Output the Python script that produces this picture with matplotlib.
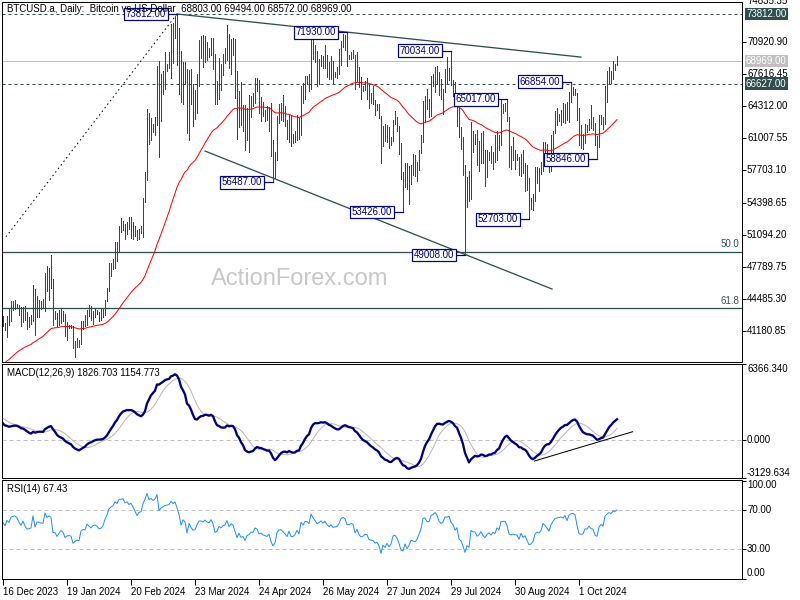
import numpy as np
import pandas as pd
import matplotlib
matplotlib.use("Agg")
import matplotlib.pyplot as plt
from matplotlib.transforms import blended_transform_factory as btf

plt.rcParams['font.family'] = ['Liberation Sans', 'DejaVu Sans']

# ---------------- data (daily bars 16 Dec 2023 .. 20 Oct 2024, broker closed 25 Dec / 1 Jan)
warmup_closes = [25160,25840,26230,26530,26610,26570,26530,26760,27210,27130,26570,26580,26580,26250,26300,26220,26370,27030,26910,26970,
 27990,27510,27430,27800,27420,27950,27970,27940,27590,27390,26880,26760,26860,26860,27160,28520,28420,28330,28720,29680,29920,29990,33090,33900,34500,34160,33910,34090,34540,34480,34670,
 35440,34940,34730,35080,35050,35040,35420,35650,36700,37320,37140,37070,36500,35540,37880,36170,36600,36590,37390,37470,35810,37420,37290,37720,37800,37480,37250,37830,37860,37710,
 38690,39480,39980,41980,44080,43770,43290,44170,43720,43790,41240,41450,42890,43020,41940]

highs_dec = [42700,42000,42700,43450,44250,44300,44350,44000,43900,43600,43700,43800,43100,42600,42850]
lows_dec  = [41700,41250,40550,41850,42200,43300,43400,43600,42800,41650,42100,42350,41350,41600,41950]
close_dec = [41930,41340,42620,42270,43650,43860,43990,43730,43010,42520,43440,42580,42070,42140,42280]

highs_jan = [45900,45500,44800,44350,44250,44500,47200,47900,47700,49000,46500,43250,43000,43350,43550,43200,42950,
             42150,41850,41850,41650,40150,40500,40300,42200,42250,42800,43300,43850,43750]
lows_jan  = [42200,40800,42650,42600,43450,43600,43200,45250,44350,45600,41800,42450,41700,41750,42050,42200,40700,
             40300,41450,41450,39450,38550,39500,39550,39850,41400,41650,41800,42700,42300]
close_jan = [44960,42850,44180,44160,43970,43930,46970,46120,46660,46350,42850,42840,41730,42510,43150,42740,41260,
             41620,41660,41580,39510,39850,40080,39930,41820,42120,42030,43300,42940,42580]

highs_feb = [43250,43500,43350,43100,43500,43400,44400,45600,48200,48150,48550,50300,50350,52000,52800,52550,52200,52350,52900,52950,
             52350,52000,51550,51700,51950,54900,57550,64000,63650]
lows_feb  = [41900,42600,42900,42250,42300,42600,42800,44300,45250,46850,47550,47700,48350,49300,51350,51600,50650,51200,51700,50800,
             50650,50950,50550,50600,51300,50900,54450,56700,60450]
close_feb = [43080,43180,43010,42580,42660,43080,44320,45300,47150,47770,48290,49960,49740,51830,51940,52160,51660,52120,51780,52280,
             51840,51300,50740,51570,51730,54520,57090,62500,61200]

highs_mar = [63100,62450,63200,68500,69000,67600,67900,69950,68700,69950,72800,72900,73650,73812,72400,70000,68900,68900,68100,68050,
             68200,66600,65950,67600,71100,71550,71700,71500,70900,70300,71350]
lows_mar  = [60800,61650,61350,62400,59100,62800,65600,66050,67950,68250,67200,68750,71350,68600,65600,64800,64550,66600,61550,60800,
             64550,62300,63050,63600,66400,69300,68400,68900,69100,69400,69550]
close_mar = [62440,62030,63170,68330,63800,66110,66930,68300,68500,69020,72120,71480,73080,71400,69400,65320,68390,67550,61910,67910,
             65490,63780,64060,67230,69960,69990,69450,70740,69890,69640,71330]

highs_apr = [71350,69700,66900,69250,68700,69650,70300,72700,71750,71200,71300,71250,67900,65850,66850,64400,64450,64100,65450,65400,
             65650,67200,67200,67050,65250,64800,63900,64350,64200,64700]
lows_apr  = [68100,64500,64500,65050,66000,67500,68800,69100,68300,67600,69600,65200,60900,62200,62350,61750,59800,60850,59650,63200,
             64300,64600,65850,63650,62800,63350,62800,62850,61800,59150]
close_apr = [69700,65450,65980,68510,67840,68900,69360,71630,69140,70590,70060,67200,63820,65740,63420,63810,61280,63510,63840,64990,
             64930,66840,66410,64280,64500,63770,63460,63120,63840,60640]

highs_may = [60800,59600,63300,64500,64600,65450,64350,62950,63450,63450,61450,61800,63400,63100,66450,66700,67400,67450,67650,71500,
             71850,70600,70050,69200,69550,69500,70600,69550,68900,69500,69000]
lows_may  = [56487,56950,58800,62600,62900,62800,62300,60900,60650,60200,60500,60650,60800,60950,61350,64650,65100,66650,65850,66100,
             69200,68900,66350,66650,68500,68250,68250,67300,67150,67150,66700]
close_may = [58250,59120,62890,63890,64030,63160,62330,61190,63050,60790,60790,61450,62900,61550,66270,65230,67050,66940,66280,71450,
             70140,69120,67930,68530,69290,68510,69390,68290,67580,68350,67490]

highs_jun = [67850,68400,70250,71050,71750,71600,71930,69550,69850,70150,69550,69950,68400,67300,66400,66950,67250,66500,65700,66450,
             65000,64500,64500,63350,62300,62450,62350,62200,61200,62950]
lows_jun  = [67300,67250,67600,68550,70400,70150,68500,69200,69150,69250,66100,66900,66300,65100,65850,66000,65100,64100,64700,64500,
             63400,63950,63100,58500,60250,60750,60600,60050,60300,60750]
close_jun = [67710,67750,68800,70570,71080,70760,69340,69300,69650,69510,67320,68240,66760,66010,66190,66640,66490,65140,64960,64830,
             64100,64250,63180,60280,61800,60860,61670,60320,60890,62680]

highs_jul = [63800,63250,62300,60500,57500,58450,58450,58200,58300,59450,59300,58550,59850,61350,64900,65350,66100,65100,67400,67600,
             68400,68500,67800,67100,66100,68200,69400,68300,70034,67000,66800]
lows_jul  = [62450,61800,59450,56800,53426,56050,55750,54300,56350,57200,57100,56600,57800,59550,60650,62700,64000,63250,63350,66450,
             65800,66600,65450,65100,63500,65750,66700,67050,66500,65350,64550]
close_jul = [62850,62030,60200,57060,56660,58240,55850,56710,58050,57720,57340,57900,59230,60790,64870,65100,64120,63970,66710,67160,
             68190,67560,65980,65390,65800,67910,67810,68250,66760,66190,64620]

highs_aug = [65600,65600,62150,61100,58300,57050,57700,62700,61750,61450,61850,60700,61550,61750,59800,59800,59650,60250,59600,61400,
             61800,61400,64950,64500,64700,65017,63200,60200,61150,59850,59450]
lows_aug  = [62300,61200,59900,57200,49008,53950,54600,54750,59600,60400,58300,57650,58500,58450,56150,57050,58800,58450,57850,58600,
             58800,59850,60350,63600,63800,62800,58100,57850,58800,57850,58750]
close_aug = [65360,61410,60680,58120,53990,56030,55030,61710,60880,60940,58710,59350,60610,58740,57560,58870,59480,58480,59490,59010,
             61180,60380,64090,64180,64180,62880,59500,59030,59390,59120,58970]

highs_sep = [59050,59400,59800,58500,58300,56950,54850,55300,58100,58050,57950,58600,60650,60650,60400,59200,61350,61800,63850,64150,
             63550,63950,64700,64550,64800,65800,66854,66250,66050,65650]
lows_sep  = [57250,57150,57450,55600,55700,52703,53750,53650,54600,56400,55550,57350,57650,59450,58700,57500,57650,59200,61600,62400,
             62750,62400,62700,62600,62950,62700,64800,65450,65450,62900]
close_sep = [57330,59130,57490,57970,56160,53950,54150,54840,57020,57650,57340,58130,60570,60010,59180,58210,60310,61760,62950,63200,
             63350,63580,63340,64260,63140,65180,65790,65890,65640,63330]

highs_oct = [64150,62400,61500,62450,62350,63000,64450,63200,62550,61300,63400,63450,63250,66450,67900,68400,67900,68950,68700,69494]
lows_oct  = [60300,60000,59900,60500,61650,61850,62100,61850,60300,58846,60100,62450,62000,62450,64800,66750,66700,67150,68000,68572]
close_oct = [60840,60630,60750,62090,62070,62820,62220,62130,60580,60270,62450,63190,62850,66050,67040,67610,67400,68420,68360,68969]

tick_labels = ["16 Dec 2023", "19 Jan 2024", "20 Feb 2024", "23 Mar 2024", "24 Apr 2024", "26 May 2024",
               "27 Jun 2024", "29 Jul 2024", "30 Aug 2024", "1 Oct 2024"]
tick_pos = [0, 32, 64, 96, 128, 160, 192, 224, 256, 288]

swing_high_idx = [87, 172, 224, 252, 284]
swing_low_idx = [135, 200, 231, 263, 297]
level_dashed = [73812, 66627]
fib_low, fib_high = 24900, 73812
fib_levels = [0.5, 0.618]
trend_dotted = [(1.5, 50880), (87, 73812)]
trend_upper = [(87, 73812), (289, 69375)]
trend_lower = [(101, 59703), (274.5, 45503)]
macd_trend = [(265.7, -1716), (314.8, 725)]

header = "BTCUSD.a, Daily:  Bitcoin vs US Dollar  68803.00 69494.00 68572.00 68969.00"
macd_title = "MACD(12,26,9) 1826.703 1154.773"
rsi_title = "RSI(14) 67.43"

# ---------------- assemble
highs = np.array(highs_dec + highs_jan + highs_feb + highs_mar + highs_apr + highs_may + highs_jun + highs_jul + highs_aug + highs_sep + highs_oct, float)
lows = np.array(lows_dec + lows_jan + lows_feb + lows_mar + lows_apr + lows_may + lows_jun + lows_jul + lows_aug + lows_sep + lows_oct, float)
closes = np.array(close_dec + close_jan + close_feb + close_mar + close_apr + close_may + close_jun + close_jul + close_aug + close_sep + close_oct, float)
n = len(closes)
idx = np.arange(n)

allc = pd.Series(list(warmup_closes) + list(closes), dtype=float)
ema55 = allc.ewm(span=55, adjust=False).mean().values[-n:]
macd_all = allc.ewm(span=12, adjust=False).mean() - allc.ewm(span=26, adjust=False).mean()
sig_all = macd_all.rolling(9).mean()
macd = macd_all.values[-n:]
sig = sig_all.values[-n:]
d = allc.diff()
ag = d.clip(lower=0).ewm(alpha=1/14, adjust=False).mean()
al = (-d.clip(upper=0)).ewm(alpha=1/14, adjust=False).mean()
rsi = (100 - 100 / (1 + ag / al)).values[-n:]

# ---------------- figure
W, H = 800, 600
fig = plt.figure(figsize=(8, 6), dpi=100)
fig.patch.set_facecolor('white')

def axpx(x0, y0, x1, y1):
    return fig.add_axes([x0 / W, 1 - y1 / H, (x1 - x0) / W, (y1 - y0) / H])

BAR = '#1f4a66'
SLATE = '#2f4f4f'
NAVY = '#000080'
PX = 0.72  # one pixel in points
FS = 7

ax = axpx(2, 2, 742, 362)
axm = axpx(2, 364, 742, 478)
axr = axpx(2, 480, 742, 579)
XL = (-0.5, 369.5)
for a in (ax, axm, axr):
    a.set_xlim(*XL)
    for s in a.spines.values():
        s.set_linewidth(PX)
        s.set_color('black')
    a.tick_params(axis='x', which='both', bottom=False, labelbottom=False)
    a.yaxis.tick_right()
    a.tick_params(axis='y', direction='out', length=3, width=PX, labelright=False, right=True)

# --- price panel
ax.set_ylim(37990, 75046)
fig.text(300 / W, 1 - 279 / H, "ActionForex.com", fontsize=17, color='#c8c8c8', ha='center', va='center', zorder=0)
ax.patch.set_alpha(0)

ax.vlines(idx, lows, highs, color=BAR, lw=PX, antialiased=False, zorder=3)
ax.plot(idx, ema55, color='red', lw=PX, zorder=4)

for lv in level_dashed:
    ax.axhline(lv, color=SLATE, lw=PX, ls=(0, (3, 3)), zorder=2)
ax.axhline(closes[-1], color='#c0c0c0', lw=PX, zorder=2)
for f in fib_levels:
    v = fib_high - f * (fib_high - fib_low)
    ax.axhline(v, color=SLATE, lw=PX * 1.3, zorder=2)
    ax.annotate(f"{f*100:.1f}", xy=(1, v), xycoords=btf(ax.transAxes, ax.transData),
                xytext=(-2, 1.5), textcoords='offset points', ha='right', va='bottom',
                fontsize=FS, color=SLATE)

def seg(a, pts, **kw):
    xs, ys = zip(*pts)
    a.plot(xs, ys, **kw)

seg(ax, trend_dotted, color='black', lw=PX, ls=(0, (1.5, 3)), zorder=5)
seg(ax, trend_upper, color=SLATE, lw=PX * 1.3, zorder=5)
seg(ax, trend_lower, color=SLATE, lw=PX * 1.3, zorder=5)

for i, p in [(i, highs[i]) for i in swing_high_idx] + [(i, lows[i]) for i in swing_low_idx]:
    ax.plot([i - 5, i], [p, p], color=NAVY, lw=PX * 1.2, zorder=6)
    ax.annotate(f"{p:.2f}", xy=(i, p), xytext=(-7.8, 0), textcoords='offset points',
                ha='right', va='center', fontsize=FS, color=NAVY, zorder=7,
                bbox=dict(boxstyle='square,pad=0.15', fc='white', ec=NAVY, lw=PX * 1.2))

ax.text(5 / 740, 1 - 7 / 360, header, transform=ax.transAxes, fontsize=FS, va='center', ha='left', zorder=8)

price_ticks = [41180.85 + k * 3304.45 for k in range(10)]
ax.set_yticks(price_ticks)
tr = btf(fig.transFigure, ax.transData)
for v in price_ticks:
    fig.text(747 / W, v, f"{v:.2f}", transform=tr, fontsize=FS, va='center', ha='left')
fig.text(747 / W, 1 - 1.5 / H, "74835.35", fontsize=FS, va='center', ha='left')
for v, bg in [(73812, SLATE), (66627, SLATE), (closes[-1], '#c0c0c0')]:
    fig.text(746 / W, v, f"{v:.2f}", transform=tr, fontsize=FS, va='center', ha='left', color='white',
             bbox=dict(boxstyle='square,pad=0.15', fc=bg, ec='none'), zorder=9)

# --- MACD panel
axm.set_ylim(-3129.634, 6366.34)
axm.axhline(0, color='#c0c0c0', lw=PX, ls=(0, (4, 3)))
axm.plot(idx, sig, color='#b8b8b8', lw=PX)
axm.plot(idx, macd, color=NAVY, lw=PX * 2.3)
seg(axm, macd_trend, color='black', lw=PX)
axm.text(5 / 740, 1 - 9 / 114, macd_title, transform=axm.transAxes, fontsize=FS, va='center', ha='left')
axm.set_yticks([-3129.634, 0, 6366.34])
fig.text(747 / W, 1 - 369.5 / H, "6366.340", fontsize=FS, va='center', ha='left')
fig.text(747 / W, 1 - 440.4 / H, "0.000", fontsize=FS, va='center', ha='left')
fig.text(747 / W, 1 - 473 / H, "-3129.634", fontsize=FS, va='center', ha='left')

# --- RSI panel
axr.set_ylim(-0.5, 101)
for lv in (70, 30):
    axr.axhline(lv, color='#c0c0c0', lw=PX, ls=(0, (4, 3)))
axr.plot(idx, rsi, color='#1e90ff', lw=PX)
axr.text(5 / 740, 1 - 9 / 99, rsi_title, transform=axr.transAxes, fontsize=FS, va='center', ha='left')
axr.set_yticks([0, 30, 70, 100])
for y, t in [(485, "100.00"), (510.3, "70.00"), (549.3, "30.00"), (573.3, "0.00")]:
    fig.text(747 / W, 1 - y / H, t, fontsize=FS, va='center', ha='left')

axr.set_xticks(tick_pos)
axr.set_xticklabels(tick_labels, fontsize=FS)
axr.tick_params(axis='x', bottom=True, labelbottom=True, direction='out', length=4, width=PX, pad=1.5)
for lab in axr.get_xticklabels():
    lab.set_ha('left')

fig.savefig("out.png", dpi=100, facecolor='white')
